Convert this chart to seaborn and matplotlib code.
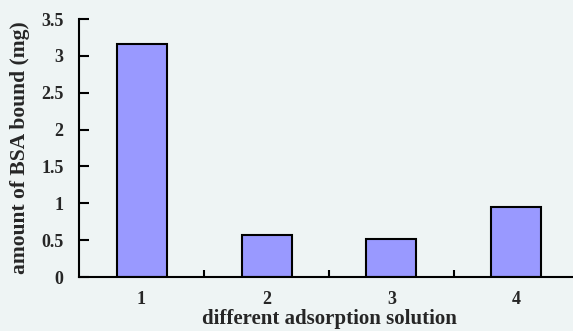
import matplotlib
matplotlib.use("Agg")
import matplotlib.pyplot as plt
import seaborn as sns
import pandas as pd
from matplotlib.ticker import FixedLocator

categories = ["1", "2", "3", "4"]
values = [3.16, 0.57, 0.52, 0.95]
yticks = [0, 0.5, 1, 1.5, 2, 2.5, 3, 3.5]
ytick_labels = ["0", "0.5", "1", "1.5", "2", "2.5", "3", "3.5"]

sns.set_style("white", {"xtick.bottom": True, "ytick.left": True,
                        "xtick.direction": "in", "ytick.direction": "in"})
plt.rcParams["font.family"] = ["Liberation Serif", "DejaVu Serif"]
plt.rcParams["font.weight"] = "bold"

bg = "#eef4f4"
fig = plt.figure(figsize=(5.73, 3.31), dpi=100, facecolor=bg)
ax = fig.add_axes([79/573, 54/331, 500/573, 258/331])
ax.set_facecolor(bg)

df = pd.DataFrame({"cat": categories, "val": values})
sns.barplot(data=df, x="cat", y="val", color="#9999ff", saturation=1,
            edgecolor="black", linewidth=1.5, width=0.4, ax=ax)

ax.set_xlim(-0.5, 3.5)
ax.set_ylim(0, 3.5)
ax.set_yticks(yticks)
ax.set_yticklabels(ytick_labels, fontsize=13, fontweight="bold")
ax.set_xticks(range(len(categories)))
ax.set_xticklabels(categories, fontsize=13, fontweight="bold")
ax.xaxis.set_minor_locator(FixedLocator([0.5, 1.5, 2.5]))
ax.tick_params(axis="x", which="major", bottom=True, length=0, pad=10)
ax.tick_params(axis="x", which="minor", bottom=True, direction="in", length=5, width=1.5, color="black")
ax.tick_params(axis="y", which="major", left=True, right=False, direction="in",
               length=7, width=1.5, color="black", pad=11)

for s in ["top", "right"]:
    ax.spines[s].set_visible(False)
for s in ["left", "bottom"]:
    ax.spines[s].set_color("black")
    ax.spines[s].set_linewidth(1.5)

ax.set_xlabel("different adsorption solution", fontsize=15, fontweight="bold", labelpad=1)
ax.set_ylabel("amount of BSA bound (mg)", fontsize=15.5, fontweight="bold", labelpad=8)

fig.savefig("out.png", dpi=100, facecolor=bg)
